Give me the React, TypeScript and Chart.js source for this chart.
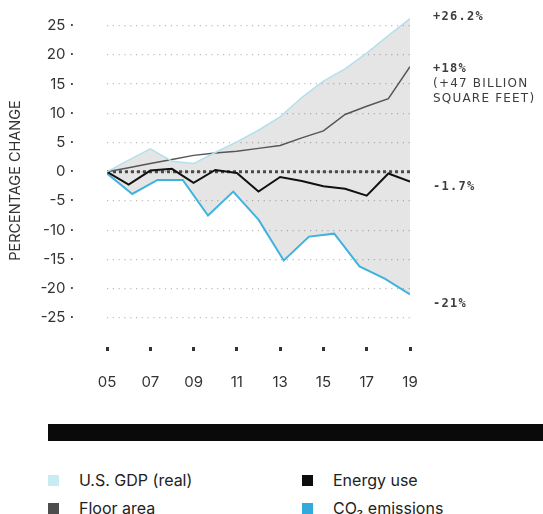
import React, { useEffect, useRef } from 'react';
import { Chart, registerables } from 'chart.js';

Chart.register(...registerables);

// ---- data (percentage change since 2005) ----
const years = [2005, 2006, 2007, 2008, 2009, 2010, 2011, 2012, 2013, 2014, 2015, 2016, 2017, 2018, 2019];
const gdpReal = [0, 2.0, 3.9, 1.8, 1.4, 3.3, 5.1, 7.1, 9.4, 12.7, 15.5, 17.6, 20.3, 23.3, 26.2];
const floorArea = [0, 0.7, 1.4, 2.1, 2.8, 3.2, 3.5, 4.0, 4.5, 5.8, 7.0, 9.8, 11.2, 12.5, 18.0];
const energyUse = [0, -2.2, 0.2, 0.5, -1.9, 0.3, -0.2, -3.4, -0.9, -1.6, -2.5, -2.9, -4.1, -0.3, -1.7];
// CO2 series is drawn with 13 evenly spaced samples across the same span
const co2Emissions = [-0.3, -3.8, -1.4, -1.4, -7.5, -3.4, -8.2, -15.2, -11.1, -10.6, -16.2, -18.3, -21.0];

const seriesLabels = ['U.S. GDP (real)', 'Floor area', 'Energy use', 'CO\u2082 emissions'];
const lineColors = ['#b2e0eb', '#555555', '#111111', '#3fb2dd'];
const swatchColors = ['#c9ebf3', '#4d4d4d', '#0d0d0d', '#33a9dc'];
const endLabels = [['+26.2%'], ['+18%', '(+47 BILLION', 'SQUARE FEET)'], ['-1.7%'], ['-21%']];
const yMin = -30;
const yMax = 27;
const yStep = 5;

const endLabelPlugin = {
  id: 'endLabels',
  afterDraw(chart: any) {
    const ctx = chart.ctx;
    const offsets = [-2, 2, 5, 9];
    const x = chart.chartArea.right + 23;
    endLabels.forEach((lines, i) => {
      const meta = chart.getDatasetMeta(i);
      const last = meta.data[meta.data.length - 1];
      if (!last) return;
      const y0 = last.y + offsets[i];
      ctx.save();
      ctx.fillStyle = '#3d3d3d';
      ctx.textBaseline = 'middle';
      ctx.textAlign = 'left';
      lines.forEach((t, j) => {
        if (j === 0) {
          ctx.font = 'bold 12px "DejaVu Sans Mono"';
          (ctx as any).letterSpacing = '1.3px';
        } else {
          ctx.font = '12px "DejaVu Sans"';
          (ctx as any).letterSpacing = '1.2px';
        }
        ctx.fillText(t, x, y0 + j * 15);
      });
      ctx.restore();
    });
  },
};

const zeroLinePlugin = {
  id: 'zeroLine',
  beforeDatasetsDraw(chart: any) {
    const { ctx, chartArea, scales } = chart;
    const y = scales.y.getPixelForValue(0);
    ctx.save();
    ctx.strokeStyle = '#4a4a4a';
    ctx.lineWidth = 3;
    ctx.setLineDash([3, 3]);
    ctx.beginPath();
    ctx.moveTo(chartArea.left, y);
    ctx.lineTo(chartArea.right, y);
    ctx.stroke();
    ctx.restore();
  },
};

function ChartView() {
  const ref = useRef<HTMLCanvasElement | null>(null);
  useEffect(() => {
    if (!ref.current) return;
    const toPts = (vals: number[]) => years.map((yr, i) => ({ x: yr, y: vals[i] }));
    const chart = new Chart(ref.current, {
      type: 'line',
      data: {
        datasets: [
          {
            label: seriesLabels[0],
            data: toPts(gdpReal),
            borderColor: lineColors[0],
            borderWidth: 1.5,
            backgroundColor: 'rgba(0,0,0,0.10)',
            fill: 3,
            pointRadius: 0,
            tension: 0,
            xAxisID: 'x',
          },
          {
            label: seriesLabels[1],
            data: toPts(floorArea),
            borderColor: lineColors[1],
            borderWidth: 1.5,
            fill: false,
            pointRadius: 0,
            xAxisID: 'x',
          },
          {
            label: seriesLabels[2],
            data: toPts(energyUse),
            borderColor: lineColors[2],
            borderWidth: 2,
            fill: false,
            pointRadius: 0,
            xAxisID: 'x',
          },
          {
            label: seriesLabels[3],
            data: co2Emissions.map((v, i) => ({ x: i, y: v })),
            borderColor: lineColors[3],
            borderWidth: 2,
            fill: false,
            pointRadius: 0,
            xAxisID: 'xc',
          },
        ],
      },
      options: {
        animation: false,
        responsive: false,
        layout: { padding: { top: 14, right: 133, left: 0, bottom: 0 } },
        plugins: {
          legend: { display: false },
          tooltip: { enabled: false },
          filler: { drawTime: 'beforeDatasetsDraw' },
        },
        scales: {
          x: {
            type: 'linear',
            min: years[0],
            max: years[years.length - 1],
            border: { display: false },
            grid: {
              drawOnChartArea: false,
              drawTicks: true,
              tickLength: 4,
              tickWidth: 3,
              tickColor: '#333',
            },
            ticks: {
              stepSize: 2,
              maxRotation: 0,
              autoSkip: false,
              padding: 22,
              color: '#333',
              font: { family: 'Inter', size: 15 },
              callback: (v: any) => String(v).slice(2),
            },
            afterFit: (scale: any) => {
              scale.height = 53;
              scale.paddingLeft = 0;
              scale.paddingRight = 0;
            },
          },
          xc: {
            type: 'linear',
            min: 0,
            max: co2Emissions.length - 1,
            display: false,
          },
          y: {
            type: 'linear',
            min: yMin,
            max: yMax,
            border: { display: false, dash: [1.2, 4.6] },
            grid: {
              drawTicks: false,
              lineWidth: 1.3,
              color: (c: any) => (c.tick && c.tick.value === yMin ? 'rgba(0,0,0,0)' : '#bdbdbd'),
            },
            ticks: {
              stepSize: yStep,
              includeBounds: false,
              padding: 33,
              color: '#333',
              font: { family: 'Inter', size: 15 },
              callback: (v: any) => (v === yMin ? '' : `${v} \u00b7`),
            },
            afterBuildTicks: (scale: any) => {
              scale.ticks = scale.ticks.filter((t: any) => t.value % yStep === 0);
            },
            title: {
              display: true,
              text: 'PERCENTAGE CHANGE',
              color: '#333',
              font: { family: 'Inter', size: 14.5 },
              padding: { top: 7, bottom: 0 },
            },
            afterFit: (scale: any) => {
              scale.width = 107;
              scale.paddingTop = 0;
              scale.paddingBottom = 0;
            },
          },
        },
      } as any,
      plugins: [zeroLinePlugin, endLabelPlugin],
    });
    return () => chart.destroy();
  }, []);
  return <canvas ref={ref} width={543} height={400} style={{ position: 'absolute', left: 0, top: 0 }} />;
}

export default function App() {
  const order = [0, 2, 1, 3];
  return (
    <div
      style={{
        position: 'absolute',
        left: 0,
        top: 0,
        width: 543,
        height: 514,
        background: '#fff',
        overflow: 'hidden',
        fontFamily: 'Inter, sans-serif',
      }}
    >
      <ChartView />
      <div style={{ position: 'absolute', left: 48, top: 424, width: 495, height: 17, background: '#0a0a0a' }} />
      {order.map((si, k) => {
        const col = k % 2;
        const row = Math.floor(k / 2);
        const left = col === 0 ? 48 : 302;
        const top = row === 0 ? 474 : 502;
        return (
          <div key={si} style={{ position: 'absolute', left, top: top - 5, height: 22, display: 'flex', alignItems: 'center' }}>
            <div style={{ width: 11, height: 11, background: swatchColors[si] }} />
            <div style={{ marginLeft: 20, fontSize: 16, color: '#222', whiteSpace: 'nowrap' }}>{seriesLabels[si]}</div>
          </div>
        );
      })}
    </div>
  );
}
